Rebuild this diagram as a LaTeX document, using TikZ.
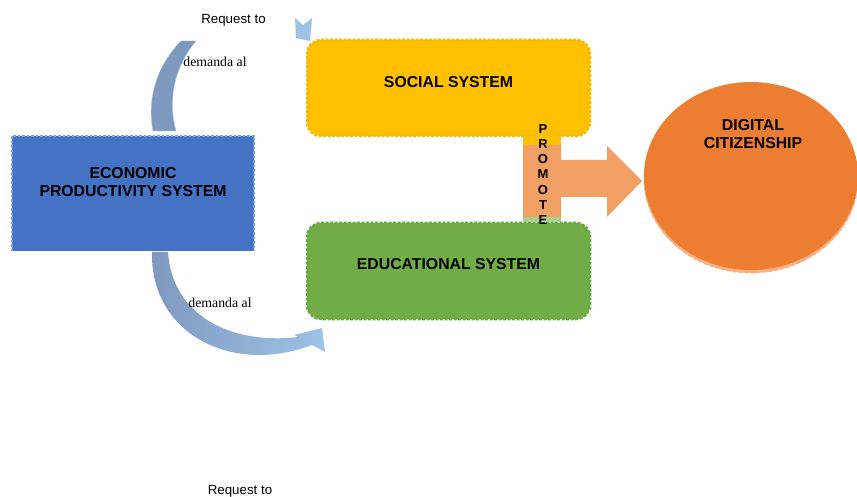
\documentclass[tikz,border=0pt]{standalone}
\usepackage{fontspec}
\setmainfont{Liberation Serif}
\setsansfont{Liberation Sans}
\usepackage{tikz}
\usetikzlibrary{positioning}
\usetikzlibrary{shapes.geometric}
\definecolor{ecoblue}{HTML}{4472C4}
\definecolor{edgeblue}{HTML}{6FA3DA}
\definecolor{socyellow}{HTML}{FFC000}
\definecolor{socedge}{HTML}{F7BA00}
\definecolor{edugreen}{HTML}{70AD47}
\definecolor{eduedge}{HTML}{6AA843}
\definecolor{stripgreen}{HTML}{A9D18E}
\definecolor{digorange}{HTML}{ED7D31}
\definecolor{digshade}{HTML}{F4B183}
\definecolor{promorange}{HTML}{F29F63}
\definecolor{bandgray}{HTML}{7F99BE}
\definecolor{bandlight}{HTML}{9DC3E6}
\tikzset{
  boxtext/.style={font=\sffamily\bfseries\fontsize{15.8}{18}\selectfont,align=center,inner sep=0},
  smalltext/.style={font=\sffamily\fontsize{13.3}{15}\selectfont,inner sep=0},
  serifnote/.style={font=\rmfamily\fontsize{13.8}{15}\selectfont,inner sep=0},
  sysbox/.style={rectangle,rounded corners=14pt,minimum width=283pt,minimum height=96pt,inner sep=0},
}

\begin{document}
\begin{tikzpicture}[x=1pt,y=-1pt]
\useasboundingbox (0,0) rectangle (857,497);

% curved arrow, top
\fill[bandgray,draw=bandlight,thin] (153,131) .. controls (146,95) and (160,62) .. (181,41)
  -- (196,41) .. controls (178,62) and (166,95) .. (176,131) -- cycle;
\fill[bandlight] (295,18) -- (303,25) -- (312,18) -- (310,41) -- (296,38) -- cycle;

% curved arrow, bottom
\shade[left color=bandgray,right color=bandlight] (168,252) .. controls (172,315) and (230,345) .. (298,337)
  -- (294,335) -- (322,328) -- (325,352) -- (312,345)
  .. controls (230,376) and (150,332) .. (152,252) -- cycle;

% boxes
\draw (133,193.5) node[rectangle,fill=ecoblue,minimum width=242pt,minimum height=115pt,inner sep=0] (econ) {};
\draw[edgeblue,line width=2pt,dash pattern=on 2.5pt off 2pt] (econ.south west) -- (econ.north west) -- (econ.north east) -- (econ.south east);
\draw (448.5,88) node[sysbox,fill=socyellow,draw=socedge,line width=2.5pt,dash pattern=on 3pt off 1.5pt] (social) {};
\draw (448.5,271) node[sysbox,fill=edugreen,draw=eduedge,line width=2.5pt,dash pattern=on 3pt off 1.5pt] (edu) {};
\draw (751,179) node[ellipse,fill=digshade,draw=digshade,dashed,thick,minimum width=214pt,minimum height=188pt,inner sep=0] (digshadow) {};
\draw (751,176) node[ellipse,fill=digorange,minimum width=214pt,minimum height=188pt,inner sep=0] (digital) {};

% promote arrow
\fill[socyellow] (523,136) rectangle (561,145);
\fill[stripgreen] (523,217) rectangle (561,222);
\fill[promorange] (523,145) -- (561,145) -- (561,160) -- (607,160) -- (607,146) -- (642,181)
  -- (607,217) -- (607,197) -- (561,197) -- (561,217) -- (523,217) -- cycle;

% texts
\draw (133,182) node[boxtext] (econtext) {ECONOMIC\\PRODUCTIVITY SYSTEM};
\draw (448.5,82) node[boxtext] (socialtext) {SOCIAL SYSTEM};
\draw (448.5,264) node[boxtext] (edutext) {EDUCATIONAL SYSTEM};
\draw (753,134) node[boxtext] (digtext) {DIGITAL\\CITIZENSHIP};
\draw (543,174.5) node[font=\sffamily\bfseries\fontsize{13}{15.2}\selectfont,align=center,inner sep=0] (promote) {P\\R\\O\\M\\O\\T\\E};

\draw (233.5,20) node[smalltext] (reqtop) {Request to};
\draw (240,491) node[smalltext] (reqbottom) {Request to};
\draw (215,62) node[serifnote] (demtop) {demanda al};
\draw (220,303) node[serifnote] (dembottom) {demanda al};
\end{tikzpicture}
\end{document}
